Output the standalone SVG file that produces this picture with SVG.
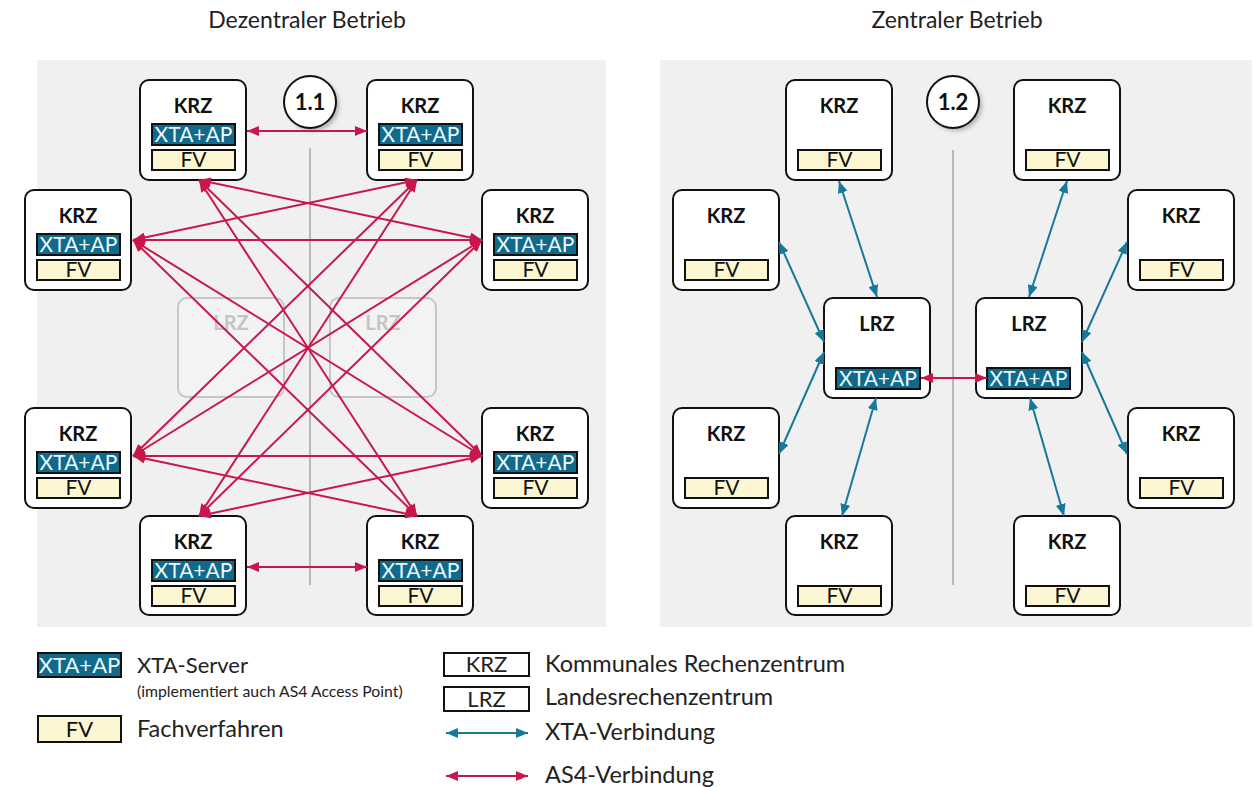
<svg xmlns="http://www.w3.org/2000/svg" width="1254" height="787" viewBox="0 0 1254 787">
<defs>
<style>
text{font-family:Lato,"Open Sans","Liberation Sans",sans-serif}
.panel{fill:#f0f0f0}
.node{fill:#ffffff;stroke:#111;stroke-width:2}
.ghost{fill:#f3f3f3;stroke:#c6c6c6;stroke-width:2}
.ghostt{fill:#c4c4c4;font-size:20px;font-weight:bold;text-anchor:middle}
.nt{font-size:20px;font-weight:bold;text-anchor:middle;fill:#111}
.xta{fill:#0f6a8c;stroke:#111;stroke-width:2}
.xtat{fill:#eef8fb;font-size:21px;text-anchor:middle}
.fv{fill:#fdf6d2;stroke:#111;stroke-width:2}
.fvt{fill:#111;font-size:21px;text-anchor:middle}
.sep{stroke:#b9b9b9;stroke-width:2}
.as4{stroke:#c8174b;stroke-width:2;fill:none;marker-start:url(#ar);marker-end:url(#ar)}
.xc{stroke:#16789a;stroke-width:2;fill:none;marker-start:url(#at);marker-end:url(#at)}
.title{font-size:23px;fill:#222;text-anchor:middle}
.leg{font-size:23.5px;fill:#222}
.circ{fill:#fff;stroke:#111;stroke-width:2}
.ct{font-size:22px;font-weight:bold;text-anchor:middle;fill:#111}
</style>
<marker id="ar" viewBox="0 0 12 10" refX="12" refY="5" markerWidth="12" markerHeight="10" markerUnits="userSpaceOnUse" orient="auto-start-reverse"><path d="M0,0 L12,5 L0,10 z" fill="#c8174b"/></marker>
<marker id="at" viewBox="0 0 12 10" refX="12" refY="5" markerWidth="12" markerHeight="10" markerUnits="userSpaceOnUse" orient="auto-start-reverse"><path d="M0,0 L12,5 L0,10 z" fill="#16789a"/></marker>
<filter id="sh" x="-30%" y="-30%" width="160%" height="160%"><feGaussianBlur stdDeviation="2"/></filter>
</defs>
<rect width="1254" height="787" fill="#ffffff"/>
<text class="title" x="307" y="28">Dezentraler Betrieb</text>
<text class="title" x="957" y="28">Zentraler Betrieb</text>
<rect class="panel" x="37" y="60" width="569" height="567"/>
<rect class="panel" x="660" y="60" width="592" height="567"/>
<line class="sep" x1="310" y1="148" x2="310" y2="585"/>
<line class="sep" x1="953" y1="150" x2="953" y2="585"/>
<g id="lrz-ghost-left"><rect class="ghost" x="178" y="298" width="106" height="99" rx="9"/><text class="ghostt" x="231" y="330">LRZ</text></g>
<g id="lrz-ghost-right"><rect class="ghost" x="330" y="298" width="106" height="99" rx="9"/><text class="ghostt" x="383" y="330">LRZ</text></g>
<g id="badge-1-1"><circle cx="313" cy="105" r="26" fill="#888" opacity="0.6" filter="url(#sh)"/><circle class="circ" cx="310" cy="102" r="26"/><text class="ct" x="310" y="110">1.1</text></g>
<g id="badge-1-2"><circle cx="956" cy="105" r="26" fill="#888" opacity="0.6" filter="url(#sh)"/><circle class="circ" cx="953" cy="102" r="26"/><text class="ct" x="953" y="110">1.2</text></g>
<g id="krz-l1"><rect class="node" x="140" y="80" width="106" height="100" rx="9"/><text class="nt" x="193" y="113">KRZ</text><rect class="xta" x="152" y="124" width="83" height="21"/><text class="xtat" x="193.5" y="142">XTA+AP</text><rect class="fv" x="152" y="150" width="83" height="20"/><text class="fvt" x="193.5" y="167">FV</text></g>
<g id="krz-l2"><rect class="node" x="367" y="80" width="106" height="100" rx="9"/><text class="nt" x="420" y="113">KRZ</text><rect class="xta" x="379" y="124" width="83" height="21"/><text class="xtat" x="420.5" y="142">XTA+AP</text><rect class="fv" x="379" y="150" width="83" height="20"/><text class="fvt" x="420.5" y="167">FV</text></g>
<g id="krz-l3"><rect class="node" x="25" y="190" width="106" height="100" rx="9"/><text class="nt" x="78" y="223">KRZ</text><rect class="xta" x="37" y="234" width="83" height="21"/><text class="xtat" x="78.5" y="252">XTA+AP</text><rect class="fv" x="37" y="260" width="83" height="20"/><text class="fvt" x="78.5" y="277">FV</text></g>
<g id="krz-l4"><rect class="node" x="482" y="190" width="106" height="100" rx="9"/><text class="nt" x="535" y="223">KRZ</text><rect class="xta" x="494" y="234" width="83" height="21"/><text class="xtat" x="535.5" y="252">XTA+AP</text><rect class="fv" x="494" y="260" width="83" height="20"/><text class="fvt" x="535.5" y="277">FV</text></g>
<g id="krz-l5"><rect class="node" x="25" y="408" width="106" height="100" rx="9"/><text class="nt" x="78" y="441">KRZ</text><rect class="xta" x="37" y="452" width="83" height="21"/><text class="xtat" x="78.5" y="470">XTA+AP</text><rect class="fv" x="37" y="478" width="83" height="20"/><text class="fvt" x="78.5" y="495">FV</text></g>
<g id="krz-l6"><rect class="node" x="482" y="408" width="106" height="100" rx="9"/><text class="nt" x="535" y="441">KRZ</text><rect class="xta" x="494" y="452" width="83" height="21"/><text class="xtat" x="535.5" y="470">XTA+AP</text><rect class="fv" x="494" y="478" width="83" height="20"/><text class="fvt" x="535.5" y="495">FV</text></g>
<g id="krz-l7"><rect class="node" x="140" y="516" width="106" height="99" rx="9"/><text class="nt" x="193" y="549">KRZ</text><rect class="xta" x="152" y="560" width="83" height="21"/><text class="xtat" x="193.5" y="578">XTA+AP</text><rect class="fv" x="152" y="586" width="83" height="20"/><text class="fvt" x="193.5" y="603">FV</text></g>
<g id="krz-l8"><rect class="node" x="367" y="516" width="106" height="99" rx="9"/><text class="nt" x="420" y="549">KRZ</text><rect class="xta" x="379" y="560" width="83" height="21"/><text class="xtat" x="420.5" y="578">XTA+AP</text><rect class="fv" x="379" y="586" width="83" height="20"/><text class="fvt" x="420.5" y="603">FV</text></g>
<g id="krz-r1"><rect class="node" x="786" y="80" width="106" height="100" rx="9"/><text class="nt" x="839" y="113">KRZ</text><rect class="fv" x="798" y="150" width="83" height="20"/><text class="fvt" x="839.5" y="167">FV</text></g>
<g id="krz-r2"><rect class="node" x="1014" y="80" width="106" height="100" rx="9"/><text class="nt" x="1067" y="113">KRZ</text><rect class="fv" x="1026" y="150" width="83" height="20"/><text class="fvt" x="1067.5" y="167">FV</text></g>
<g id="krz-r3"><rect class="node" x="673" y="190" width="106" height="100" rx="9"/><text class="nt" x="726" y="223">KRZ</text><rect class="fv" x="685" y="260" width="83" height="20"/><text class="fvt" x="726.5" y="277">FV</text></g>
<g id="krz-r4"><rect class="node" x="1128" y="190" width="106" height="100" rx="9"/><text class="nt" x="1181" y="223">KRZ</text><rect class="fv" x="1140" y="260" width="83" height="20"/><text class="fvt" x="1181.5" y="277">FV</text></g>
<g id="krz-r5"><rect class="node" x="673" y="408" width="106" height="100" rx="9"/><text class="nt" x="726" y="441">KRZ</text><rect class="fv" x="685" y="478" width="83" height="20"/><text class="fvt" x="726.5" y="495">FV</text></g>
<g id="krz-r6"><rect class="node" x="1128" y="408" width="106" height="100" rx="9"/><text class="nt" x="1181" y="441">KRZ</text><rect class="fv" x="1140" y="478" width="83" height="20"/><text class="fvt" x="1181.5" y="495">FV</text></g>
<g id="krz-r7"><rect class="node" x="786" y="516" width="106" height="99" rx="9"/><text class="nt" x="839" y="549">KRZ</text><rect class="fv" x="798" y="586" width="83" height="20"/><text class="fvt" x="839.5" y="603">FV</text></g>
<g id="krz-r8"><rect class="node" x="1014" y="516" width="106" height="99" rx="9"/><text class="nt" x="1067" y="549">KRZ</text><rect class="fv" x="1026" y="586" width="83" height="20"/><text class="fvt" x="1067.5" y="603">FV</text></g>
<g id="lrz-left"><rect class="node" x="824" y="298" width="106" height="100" rx="9"/><text class="nt" x="877" y="331">LRZ</text><rect class="xta" x="836" y="368" width="84" height="21"/><text class="xtat" x="878" y="386">XTA+AP</text></g>
<g id="lrz-right"><rect class="node" x="976" y="298" width="106" height="100" rx="9"/><text class="nt" x="1029" y="331">LRZ</text><rect class="xta" x="987" y="368" width="83" height="21"/><text class="xtat" x="1028.5" y="386">XTA+AP</text></g>
<g id="connectors">
<line class="as4" x1="247" y1="131" x2="367" y2="131"/>
<line class="as4" x1="247" y1="567" x2="367" y2="567"/>
<line class="as4" x1="199" y1="180" x2="482" y2="240"/>
<line class="as4" x1="199" y1="180" x2="482" y2="456"/>
<line class="as4" x1="199" y1="180" x2="417" y2="516"/>
<line class="as4" x1="417" y1="180" x2="133" y2="240"/>
<line class="as4" x1="417" y1="180" x2="133" y2="456"/>
<line class="as4" x1="417" y1="180" x2="199" y2="516"/>
<line class="as4" x1="133" y1="240" x2="482" y2="240"/>
<line class="as4" x1="133" y1="240" x2="482" y2="456"/>
<line class="as4" x1="133" y1="240" x2="417" y2="516"/>
<line class="as4" x1="482" y1="240" x2="133" y2="456"/>
<line class="as4" x1="482" y1="240" x2="199" y2="516"/>
<line class="as4" x1="133" y1="456" x2="482" y2="456"/>
<line class="as4" x1="133" y1="456" x2="417" y2="516"/>
<line class="as4" x1="482" y1="456" x2="199" y2="516"/>
<line class="xc" x1="839" y1="181" x2="877" y2="297"/>
<line class="xc" x1="779" y1="242" x2="824" y2="342"/>
<line class="xc" x1="779" y1="454" x2="824" y2="352"/>
<line class="xc" x1="842" y1="516" x2="876" y2="398"/>
<line class="xc" x1="1067" y1="181" x2="1029" y2="297"/>
<line class="xc" x1="1127" y1="242" x2="1082" y2="342"/>
<line class="xc" x1="1127" y1="454" x2="1082" y2="352"/>
<line class="xc" x1="1064" y1="516" x2="1030" y2="398"/>
<line class="as4" x1="921" y1="378" x2="987" y2="378"/>
</g>
<g id="legend">
<rect class="xta" x="38" y="653" width="83" height="24"/><text class="xtat" x="79.5" y="673" style="font-size:22px">XTA+AP</text>
<text class="leg" x="137" y="673" style="font-size:22px">XTA-Server</text>
<text class="leg" x="137" y="697" style="font-size:15.8px">(implementiert auch AS4 Access Point)</text>
<rect class="fv" x="38" y="716" width="83" height="26"/><text class="fvt" x="79.5" y="737" style="font-size:22px">FV</text>
<text class="leg" x="137" y="737">Fachverfahren</text>
<rect x="444" y="653" width="85" height="23" fill="#fff" stroke="#111" stroke-width="2"/><text class="leg" x="486.5" y="672" text-anchor="middle" style="font-size:22px">KRZ</text>
<rect x="444" y="687" width="85" height="24" fill="#fff" stroke="#111" stroke-width="2"/><text class="leg" x="486.5" y="707" text-anchor="middle" style="font-size:22px">LRZ</text>
<text class="leg" x="545" y="672">Kommunales Rechenzentrum</text>
<text class="leg" x="545" y="705">Landesrechenzentrum</text>
<line class="xc" x1="446" y1="733" x2="528" y2="733"/>
<text class="leg" x="545" y="740">XTA-Verbindung</text>
<line class="as4" x1="446" y1="776" x2="528" y2="776"/>
<text class="leg" x="545" y="783">AS4-Verbindung</text>
</g>
</svg>
